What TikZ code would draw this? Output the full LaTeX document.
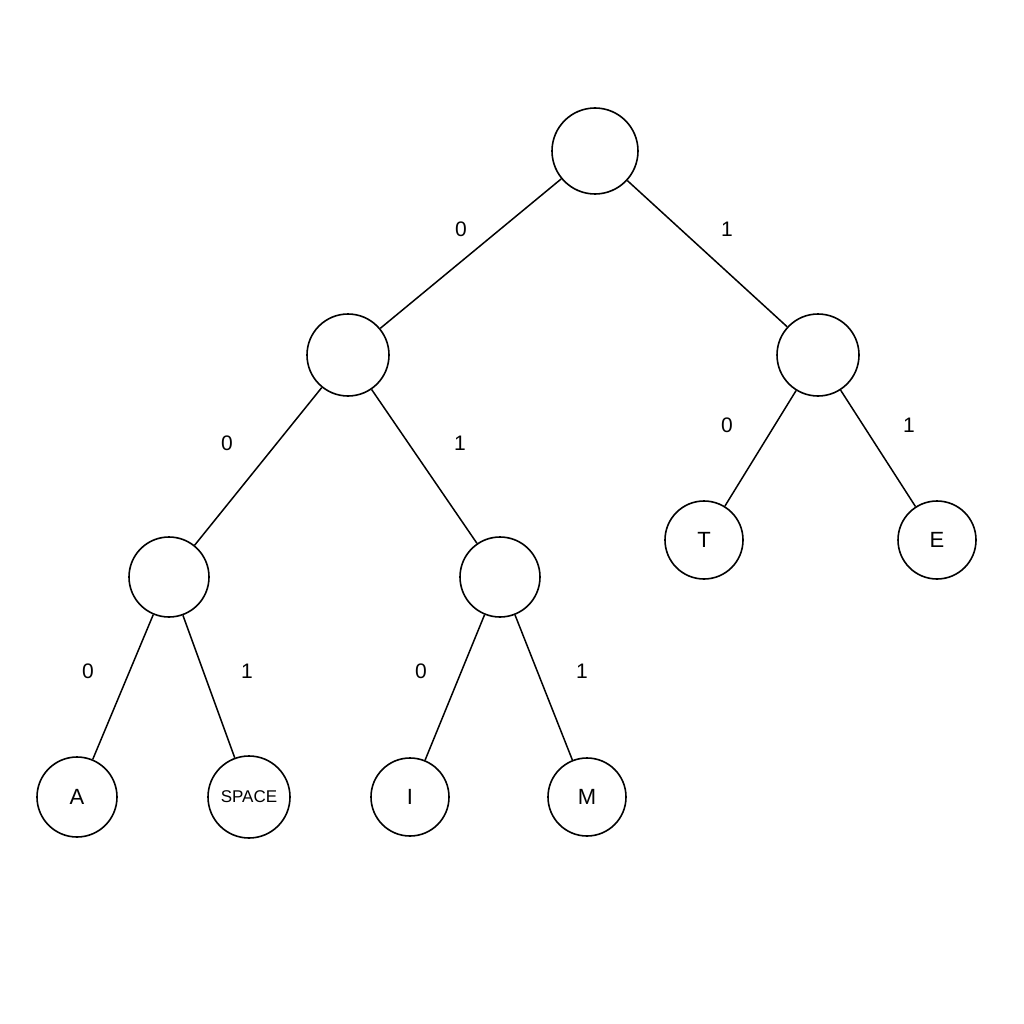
\documentclass[tikz,border=0pt]{standalone}
\usepackage{fontspec}
\setmainfont{Liberation Sans}
\begin{document}
\begin{tikzpicture}[x=1pt,y=-1pt,
  nd/.style={circle,draw,line width=1.6pt,inner sep=0pt,minimum size=#1,font=\fontsize{22}{24}\selectfont},
  ed/.style={line width=1.5pt},
  lb/.style={font=\fontsize{21}{24}\selectfont}]
\useasboundingbox (0,0) rectangle (1024,1024);
\node[nd=86pt] (r) at (595,151) {};
\node[nd=82pt] (l) at (348,355) {};
\node[nd=82pt] (rr) at (818,355) {};
\node[nd=80pt] (ll) at (169,577) {};
\node[nd=80pt] (lr) at (500,577) {};
\node[nd=78pt] (t) at (704,540) {T};
\node[nd=78pt] (e) at (937,540) {E};
\node[nd=80pt] (a) at (77,797) {A};
\node[nd=82pt,font=\fontsize{17}{20}\selectfont] (sp) at (249,797) {SPACE};
\node[nd=78pt] (i) at (410,797) {I};
\node[nd=78pt] (m) at (587,797) {M};
\draw[ed] (r)--(l); \draw[ed] (r)--(rr);
\draw[ed] (l)--(ll); \draw[ed] (l)--(lr);
\draw[ed] (rr)--(t); \draw[ed] (rr)--(e);
\draw[ed] (ll)--(a); \draw[ed] (ll)--(sp);
\draw[ed] (lr)--(i); \draw[ed] (lr)--(m);
\node[lb] (l1) at (461,229) {0}; \node[lb] (l2) at (727,229) {1};
\node[lb] (l3) at (227,443) {0}; \node[lb] (l4) at (460,443) {1};
\node[lb] (l5) at (727,425) {0}; \node[lb] (l6) at (909,425) {1};
\node[lb] (l7) at (88,671) {0}; \node[lb] (l8) at (247,671) {1};
\node[lb] (l9) at (421,671) {0}; \node[lb] (l10) at (582,671) {1};
\end{tikzpicture}
\end{document}
